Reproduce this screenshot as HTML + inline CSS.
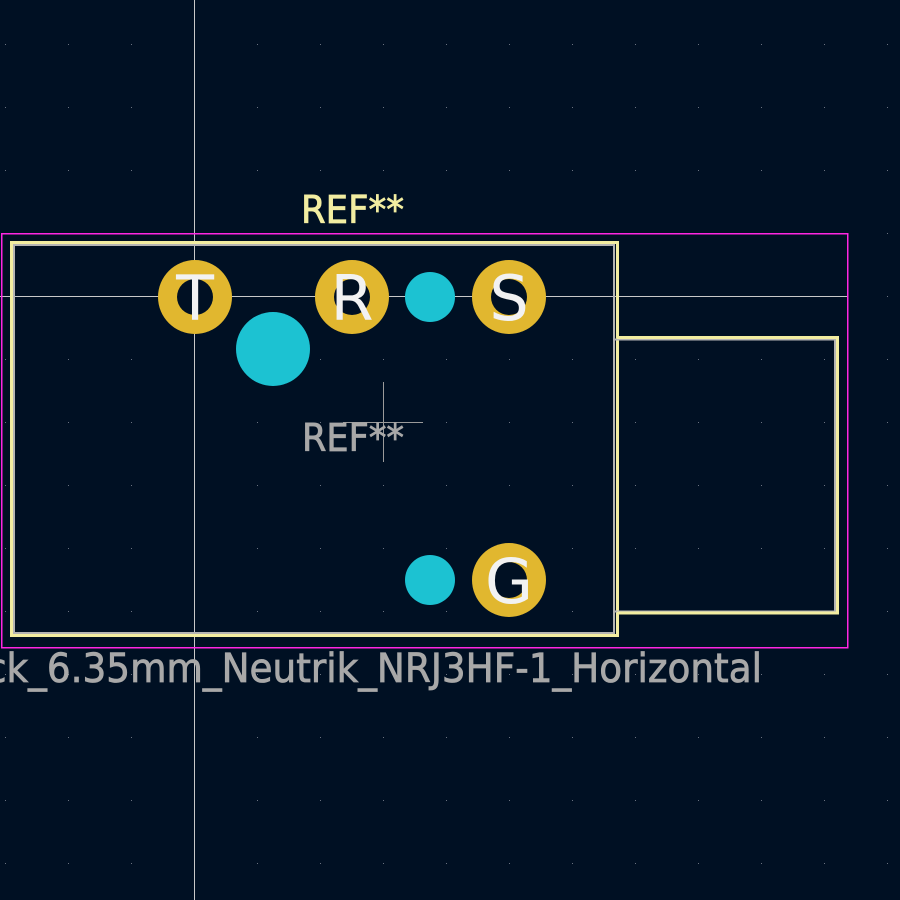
<!DOCTYPE html>
<html><head><meta charset="utf-8"><style>
html,body{margin:0;padding:0;background:#001023;}
svg{display:block;}
text{font-family:"DejaVu Sans","Liberation Sans",sans-serif;}
</style></head><body>
<svg width="900" height="900" viewBox="0 0 900 900">
<rect x="0" y="0" width="900" height="900" fill="#001023"/>
<g id="grid"></g>
<line x1="194.5" y1="0" x2="194.5" y2="900" stroke="#c8c8c8" stroke-width="1"/>
<line x1="0" y1="296.5" x2="848" y2="296.5" stroke="#c8c8c8" stroke-width="1"/>
<rect x="1.5" y="233.5" width="846" height="414" fill="none" stroke="#ff26e2" stroke-width="1.5" shape-rendering="crispEdges"/>
<rect x="14" y="245" width="600" height="388" fill="none" stroke="#b4b4b4" stroke-width="2"/>
<rect x="11.5" y="242.5" width="606" height="393" fill="none" stroke="#f2eda1" stroke-width="3"/>
<rect x="614" y="339.5" width="221" height="272" fill="none" stroke="#b4b4b4" stroke-width="2"/>
<polyline points="617,337.5 837.5,337.5 837.5,613 617,613" fill="none" stroke="#f2eda1" stroke-width="3"/>
<circle cx="430" cy="297" r="25" fill="#1cc2d2"/>
<circle cx="273" cy="349" r="37" fill="#1cc2d2"/>
<circle cx="430" cy="580" r="25" fill="#1cc2d2"/>
<g fill="#e1b72f">
<circle cx="195" cy="297" r="37"/>
<circle cx="352" cy="297" r="37"/>
<circle cx="509" cy="297" r="37"/>
<circle cx="509" cy="580" r="37"/>
</g>
<g fill="#001023">
<circle cx="195" cy="297" r="18"/><circle cx="352" cy="297" r="18"/><circle cx="509" cy="297" r="18"/><circle cx="509" cy="580" r="18"/>
</g>
<g fill="#f2f2f2" font-size="62" text-anchor="middle" style="font-family:'Liberation Sans',sans-serif">
<text x="195" y="320">T</text>
<text x="352" y="320">R</text>
<text x="509" y="320">S</text>
<text x="509" y="603">G</text>
</g>
<text x="301" y="223" font-size="38" fill="#f2eda1" stroke="#f2eda1" stroke-width="0.8" textLength="103" lengthAdjust="spacingAndGlyphs">REF**</text>
<line x1="383.5" y1="382" x2="383.5" y2="462" stroke="#9a9a9a" stroke-width="1"/>
<line x1="343" y1="422.5" x2="423" y2="422.5" stroke="#9a9a9a" stroke-width="1"/>
<text x="302" y="451" font-size="38" fill="#a8a8a8" stroke="#a8a8a8" stroke-width="0.8" textLength="102" lengthAdjust="spacingAndGlyphs">REF**</text>
<text x="-14" y="682" font-size="40" fill="#a8a8a8" stroke="#a8a8a8" stroke-width="0.8" textLength="776" lengthAdjust="spacingAndGlyphs">ck_6.35mm_Neutrik_NRJ3HF-1_Horizontal</text>
</svg>
<script>
var g=document.getElementById('grid');
for(var x=5;x<900;x+=63){for(var y=44;y<900;y+=63){
var r=document.createElementNS('http://www.w3.org/2000/svg','rect');
r.setAttribute('x',x);r.setAttribute('y',y);r.setAttribute('width',1);r.setAttribute('height',1);r.setAttribute('fill','#6a7280');


g.appendChild(r);}}
</script>
</body></html>
